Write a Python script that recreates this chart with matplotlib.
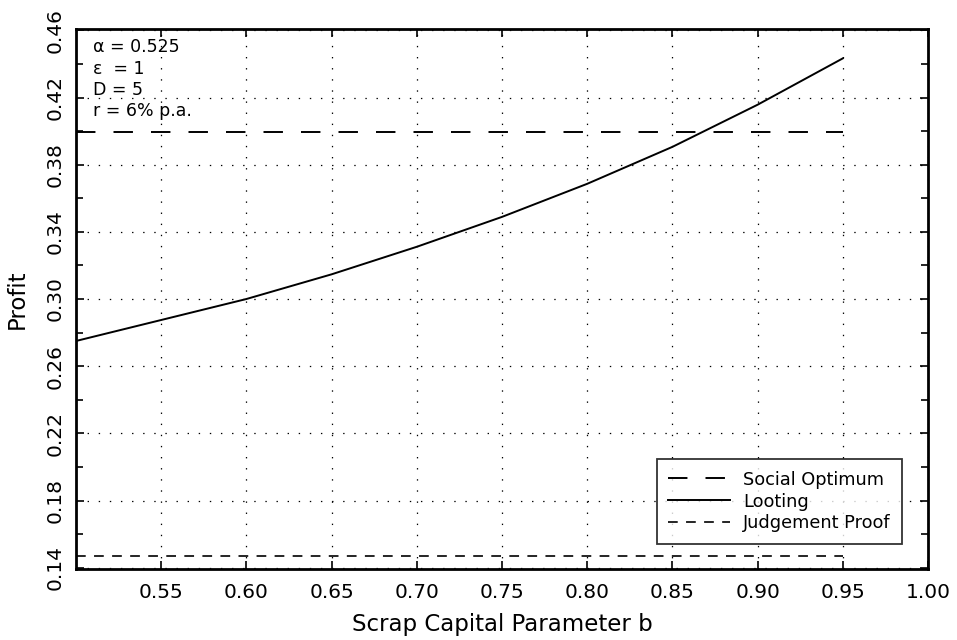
import matplotlib
matplotlib.use("Agg")
import matplotlib.pyplot as plt
from matplotlib.ticker import FixedLocator

plt.rcParams['font.family'] = ['DejaVu Sans']
plt.rcParams['lines.scale_dashes'] = False

# Data
b_values = [0.50, 0.55, 0.60, 0.65, 0.70, 0.75, 0.80, 0.85, 0.90, 0.95]
looting = [0.275, 0.2875, 0.300, 0.3147, 0.3311, 0.3489, 0.3686, 0.3906, 0.4157, 0.4433]
social_optimum = 0.3995
judgement_proof = 0.1467
line_x = [0.50, 0.95]

x_ticks = [0.55, 0.60, 0.65, 0.70, 0.75, 0.80, 0.85, 0.90, 0.95, 1.00]
y_ticks = [0.14, 0.18, 0.22, 0.26, 0.30, 0.34, 0.38, 0.42, 0.46]
y_minor = [0.16, 0.20, 0.24, 0.28, 0.32, 0.36, 0.40, 0.44]
params_text = ["α = 0.525", "ε  = 1", "D = 5", "r = 6% p.a."]

fig = plt.figure(figsize=(9.57, 6.4), dpi=100)
ax = fig.add_axes([0.0794, 0.1109, 0.8903, 0.8438])

ax.plot(line_x, [social_optimum, social_optimum], color='black', lw=1.4,
        dashes=(14, 13), label='Social Optimum')
ax.plot(b_values, looting, color='black', lw=1.4, label='Looting')
ax.plot(line_x, [judgement_proof, judgement_proof], color='black', lw=1.2,
        dashes=(7, 6), label='Judgement Proof')

ax.set_xlim(0.50, 1.00)
ax.set_ylim(0.1392, 0.4608)
ax.xaxis.set_major_locator(FixedLocator(x_ticks))
ax.yaxis.set_major_locator(FixedLocator(y_ticks))
ax.yaxis.set_minor_locator(FixedLocator(y_minor))
ax.set_xticklabels([f"{v:.2f}" for v in x_ticks])
ax.set_yticklabels([f"{v:.2f}" for v in y_ticks], rotation=90, va='center')

ax.tick_params(axis='both', which='both', direction='in', top=True, right=True,
               labelsize=14.5, width=1.2, color='black')
ax.tick_params(which='major', length=6)
ax.tick_params(which='minor', length=5)
ax.tick_params(axis='x', pad=10)
ax.tick_params(axis='y', pad=8)

ax.grid(True, which='major', color='black', linestyle=(0, (1, 7)), linewidth=0.9)

for s in ax.spines.values():
    s.set_linewidth(2.0)

ax.set_xlabel('Scrap Capital Parameter b', fontsize=16.5, labelpad=8)
ax.set_ylabel('Profit', fontsize=16.5, labelpad=12)

for i, t in enumerate(params_text):
    ax.text(0.02, 0.983 - i * 0.0395, t, transform=ax.transAxes, fontsize=12.5,
            va='top', ha='left')

leg = ax.legend(loc='lower right', bbox_to_anchor=(0.9695, 0.0463), fontsize=12.8,
                frameon=True, fancybox=False, edgecolor='black', handlelength=3.5,
                handletextpad=0.7, borderpad=0.65, labelspacing=0.22,
                borderaxespad=0.0)
leg.get_frame().set_linewidth(1.3)

fig.savefig('out.png', dpi=100)
